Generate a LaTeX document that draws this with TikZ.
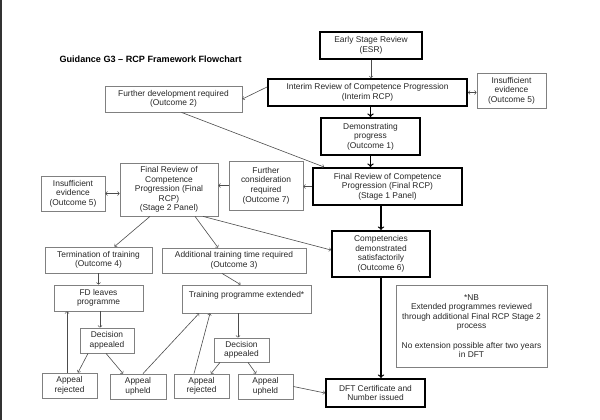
\documentclass[tikz,border=0pt]{standalone}
\usepackage{fontspec}
\setmainfont{Liberation Sans}
\usetikzlibrary{positioning}

\begin{document}
\begin{tikzpicture}[
	x=1pt, y=-1pt,
	font=\fontsize{8.4}{9.6}\selectfont,
	size/.style 2 args = {minimum width=#1, minimum height=#2},
	box/.style = {draw=black!50, line width=0.8pt, align=center, inner sep=2pt, text=black!85},
	thick box/.style = {box, draw=black, line width=2pt},
	arrow/.style = {->, >=to, draw=black!70, line width=0.6pt},
	heavy arrow/.style = {->, >=to, line width=1.3pt},
	both arrow/.style = {arrow, <->}
]

\useasboundingbox (0,0) rectangle (600,420);
\draw[line width=2pt, black!80] (1,0) -- (1,420);

\node[anchor=west, font=\fontsize{9.1}{11}\selectfont\bfseries] (title) at (56,59) {Guidance G3 – RCP Framework Flowchart};

% reviews
\node[thick box, size={102}{27}] (early review) at (371,45.5) {Early Stage Review\\(ESR)};
\node[thick box, size={199}{27}] (interim review) at (367.5,92.5) {Interim Review of Competence Progression\\(Interim RCP)};
\node[box, size={69}{35}] (insufficient right) at (511.5,90.5) {Insufficient\\evidence\\(Outcome 5)};
\node[box, size={137}{26}] (outcome 2) at (173.5,99) {Further development required\\(Outcome 2)};
\node[thick box, size={99}{37}] (outcome 1) at (370.5,136.5) {Demonstrating\\progress\\(Outcome 1)};
\node[thick box, size={149}{37}] (stage 1) at (387.5,186.5) {Final Review of Competence\\Progression (Final RCP)\\(Stage 1 Panel)};
\node[box, size={74}{49}] (outcome 7) at (266,185.5) {Further\\consideration\\required\\(Outcome 7)};
\node[box, size={98}{53}] (stage 2) at (169,189.5) {Final Review of\\Competence\\Progression (Final\\RCP)\\(Stage 2 Panel)};
\node[box, size={64}{35}] (insufficient left) at (73,193.5) {Insufficient\\evidence\\(Outcome 5)};

% outcomes
\node[box, size={107}{26}] (outcome 4) at (98.5,260) {Termination of training\\(Outcome 4)};
\node[box, size={144}{25}] (outcome 3) at (234,260.5) {Additional training time required\\(Outcome 3)};
\node[thick box, size={98}{46}] (outcome 6) at (381,254) {Competencies\\demonstrated\\satisfactorily\\(Outcome 6)};
\node[box, size={89}{26}] (leaves) at (98.5,298) {FD leaves\\programme};
\node[box, size={129}{28}] (extended) at (246.5,299) {Training programme extended*\\\mbox{}};

% appeals
\node[box, size={54}{25}] (appealed left) at (107,340.5) {Decision\\appealed};
\node[box, size={55}{24}] (appealed right) at (241.5,350) {Decision\\appealed};
\node[box, size={55}{25}] (rejected left) at (69.5,385.5) {Appeal\\rejected};
\node[box, size={56}{25}] (upheld left) at (138,386.5) {Appeal\\upheld};
\node[box, size={55}{24}] (rejected right) at (201.5,386) {Appeal\\rejected};
\node[box, size={55}{25}] (upheld right) at (265.5,386.5) {Appeal\\upheld};
\node[thick box, size={99}{28}] (certificate) at (375.5,393) {DFT Certificate and\\Number issued};
\node[box, size={151}{82}] (note) at (471.5,326) {*NB\\Extended programmes reviewed\\through additional Final RCP Stage 2\\process\\[9.6pt]No extension possible after two years\\in DFT};

% main line
\draw[arrow] (early review.south) -- (early review.south |- interim review.north);
\draw[heavy arrow] (outcome 1.north |- interim review.south) -- (outcome 1.north);
\draw[heavy arrow] (outcome 1.south) -- (outcome 1.south |- stage 1.north);
\draw[heavy arrow] (outcome 6.north |- stage 1.south) -- (outcome 6.north);
\draw[heavy arrow] (outcome 6.south) -- (outcome 6.south |- certificate.north);

% side branches
\draw[arrow] ([yshift=5.5pt]interim review.west) -- (outcome 2.east);
\draw[both arrow] (interim review.east) -- (interim review.east -| insufficient right.west);
\draw[arrow] ([xshift=8pt]outcome 2.south) -- ([xshift=12pt]stage 1.north west);
\draw[arrow] (stage 1.west) -- (stage 1.west -| outcome 7.east);
\draw[arrow] (outcome 7.west) -- (outcome 7.west -| stage 2.east);
\draw[both arrow] (insufficient left.east) -- (insufficient left.east -| stage 2.west);
\draw[arrow] ([xshift=-19pt]stage 2.south) -- ([xshift=16pt]outcome 4.north);
\draw[arrow] ([xshift=26pt]stage 2.south) -- ([xshift=-16pt]outcome 3.north);
\draw[arrow] ([xshift=34pt]stage 2.south) -- ([yshift=4pt]outcome 6.west);
\draw[arrow] (outcome 4.south) -- (leaves.north);
\draw[arrow] ([xshift=-12pt]outcome 3.south) -- ([xshift=-6pt]extended.north);

% appeal loops
\draw[arrow] ([xshift=1.5pt]leaves.south) -- ([xshift=1.5pt]leaves.south |- appealed left.north);
\draw[arrow] ([xshift=-19pt]appealed left.south) -- ([xshift=8.5pt]rejected left.north);
\draw[arrow] ([xshift=-1pt]appealed left.south) -- ([xshift=-15pt]upheld left.north);
\draw[arrow] ([xshift=-2.5pt]rejected left.north) -- ([xshift=-2.5pt]rejected left.north |- leaves.south);
\draw[arrow] ([xshift=5pt]upheld left.north) -- ([xshift=-47.5pt]extended.south);
\draw[arrow] ([xshift=-8.5pt]extended.south) -- ([xshift=-8.5pt]extended.south |- appealed right.north);
\draw[arrow] ([xshift=-21.5pt]appealed right.south) -- ([xshift=9.5pt]rejected right.north);
\draw[arrow] ([xshift=6.5pt]appealed right.south) -- ([xshift=-9.5pt]upheld right.north);
\draw[arrow] ([xshift=-7.5pt]rejected right.north) -- ([xshift=-36.5pt]extended.south);
\draw[arrow] (upheld right.east) -- (certificate.west);

\end{tikzpicture}
\end{document}
